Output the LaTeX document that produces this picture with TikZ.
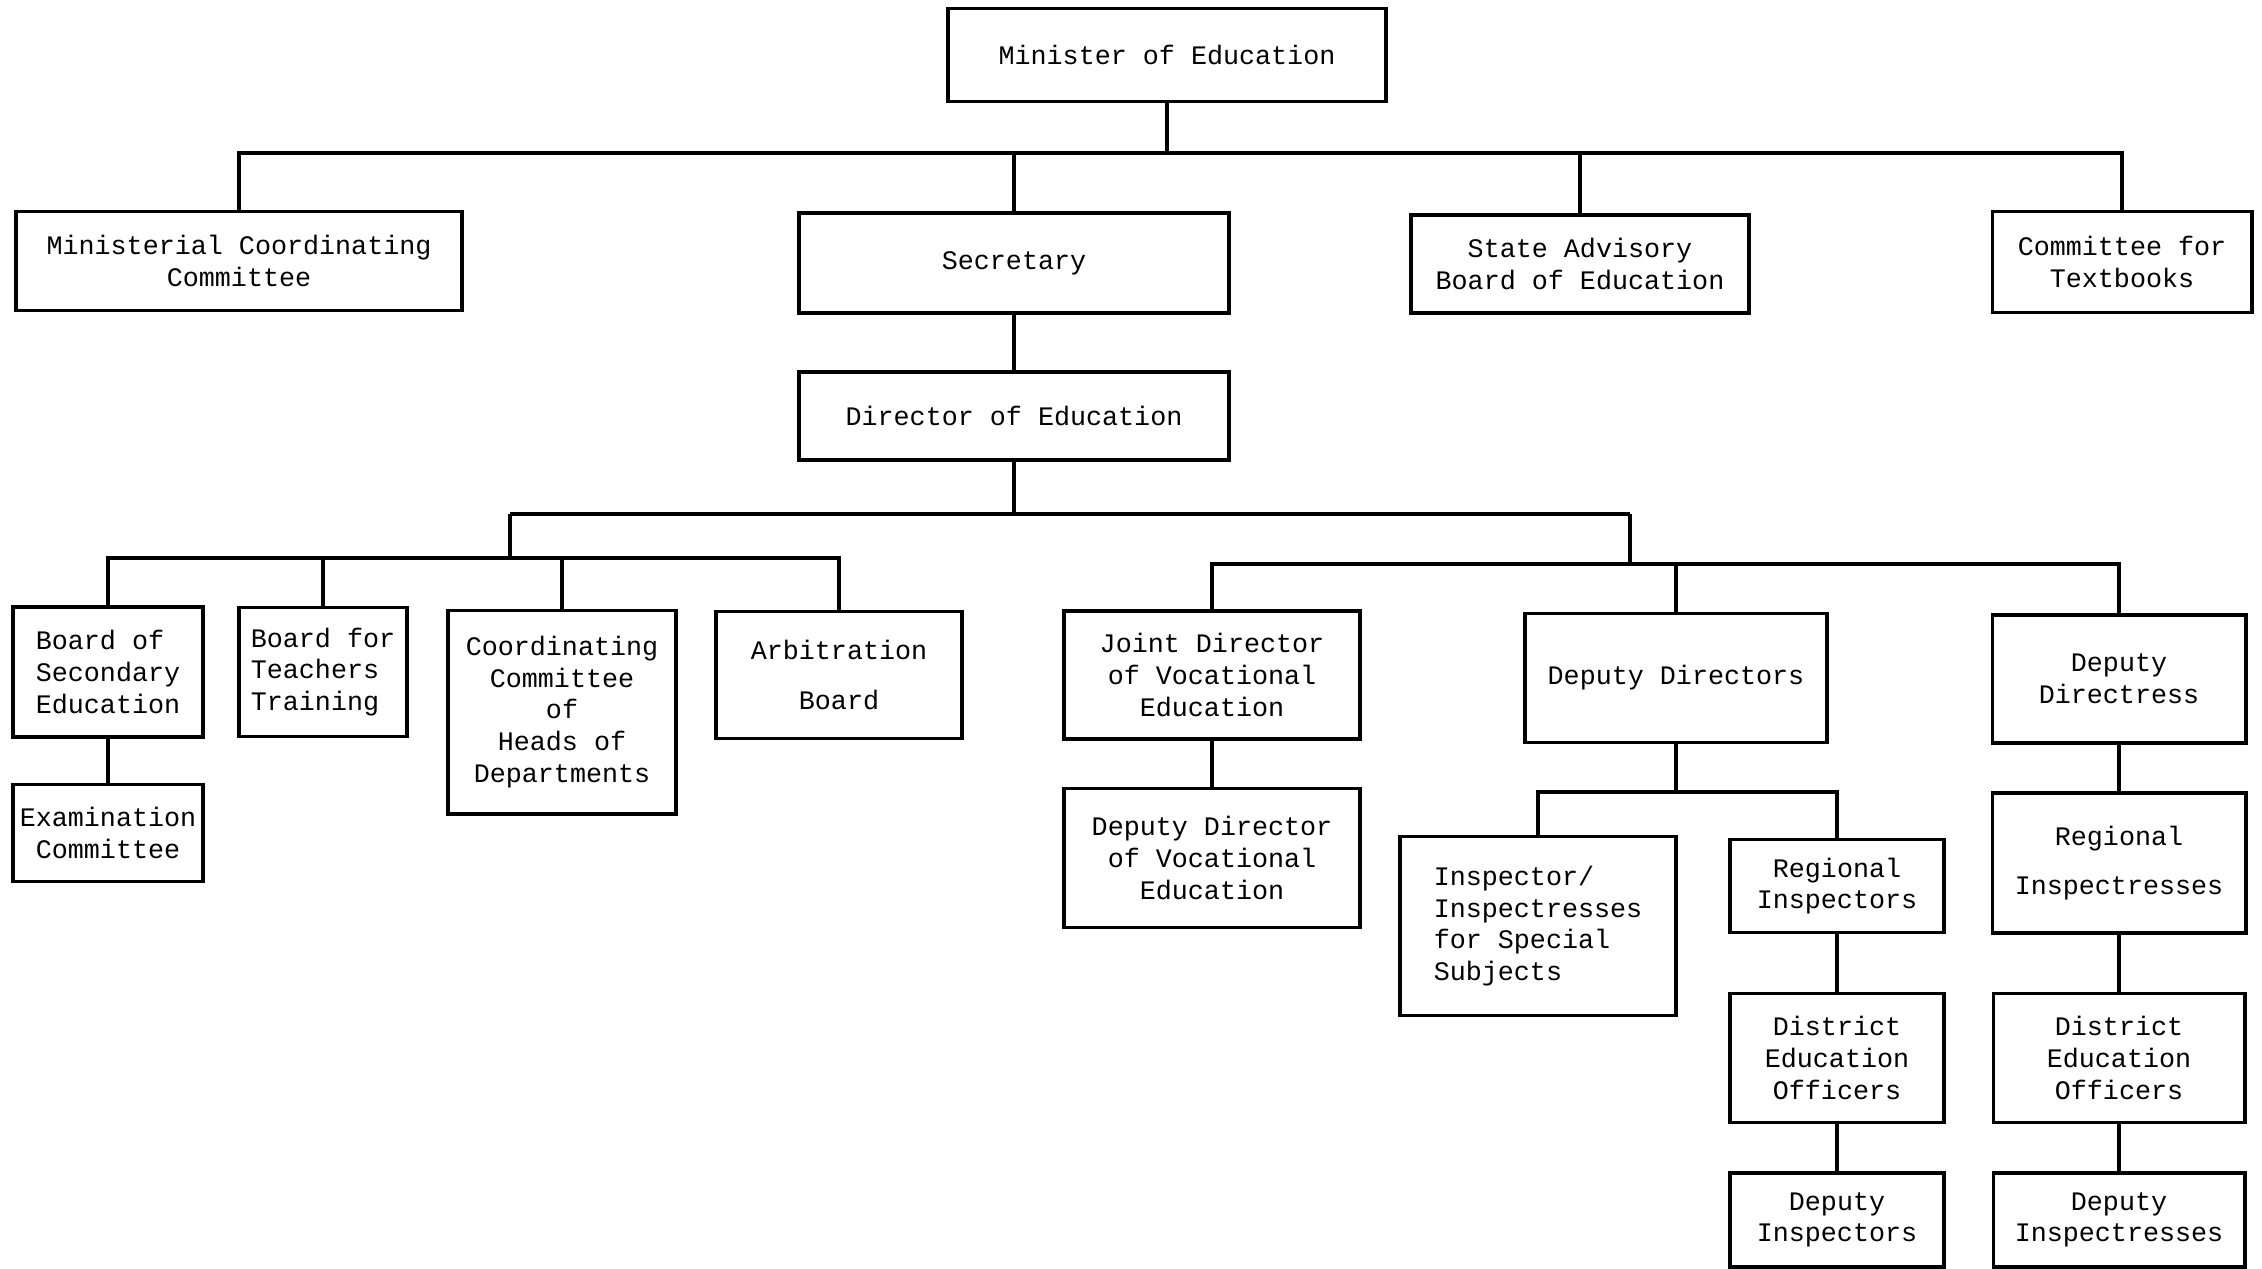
\documentclass[tikz,border=0pt]{standalone}
\usepackage{fontspec}
\setmonofont{Liberation Mono}
\usepackage{tikz}

\begin{document}
\begin{tikzpicture}[x=0.01cm,y=-0.01cm,
    font=\ttfamily\fontsize{7.6}{9}\selectfont,
    box/.style={draw,line width=1.1pt,inner sep=2pt,align=center},
    link/.style={line width=1pt}]
    \useasboundingbox (0,0) rectangle (2262,1269);
    % top level
    \node[box,minimum width=4.38cm,minimum height=0.93cm] (minister) at (1167,55) {Minister of Education};
    \node[box,minimum width=4.46cm,minimum height=0.99cm] (mcc) at (239,261) {Ministerial Coordinating\\Committee};
    \node[box,minimum width=4.29cm,minimum height=1.00cm] (sec) at (1014,263) {Secretary};
    \node[box,minimum width=3.38cm,minimum height=0.98cm] (sab) at (1580,264) {State Advisory\\Board of Education};
    \node[box,minimum width=2.59cm,minimum height=1.01cm] (cft) at (2122,262) {Committee for\\Textbooks};
    \node[box,minimum width=4.29cm,minimum height=0.88cm] (dir) at (1014,416) {Director of Education};
    % boards under the director
    \node[box,align=left,minimum width=1.90cm,minimum height=1.30cm] (bse) at (108,672) {Board of\\Secondary\\Education};
    \node[box,minimum width=1.90cm,minimum height=0.97cm] (exam) at (108,833) {Examination\\Committee};
    \node[box,align=left,minimum width=1.68cm,minimum height=1.29cm] (btt) at (323,672) {Board for\\Teachers\\Training};
    \node[box,minimum width=2.28cm,minimum height=2.03cm] (cchd) at (562,712) {Coordinating\\Committee\\of\\Heads of\\Departments};
    \node[box,minimum width=2.46cm,minimum height=1.27cm] (arb) at (839,675) {Arbitration\\[5pt]Board};
    % directors
    \node[box,minimum width=2.96cm,minimum height=1.28cm] (jdve) at (1212,675) {Joint Director\\of Vocational\\Education};
    \node[box,minimum width=2.96cm,minimum height=1.39cm] (ddve) at (1212,858) {Deputy Director\\of Vocational\\Education};
    \node[box,minimum width=3.02cm,minimum height=1.29cm] (dds) at (1676,678) {Deputy Directors};
    \node[box,minimum width=2.53cm,minimum height=1.28cm] (ddss) at (2119,679) {Deputy\\Directress};
    % inspectors
    \node[box,align=left,minimum width=2.75cm,minimum height=1.79cm] (isps) at (1538,926) {Inspector/\\Inspectresses\\for Special\\Subjects};
    \node[box,minimum width=2.14cm,minimum height=0.93cm] (rins) at (1837,886) {Regional\\Inspectors};
    \node[box,minimum width=2.14cm,minimum height=1.29cm] (deo1) at (1837,1058) {District\\Education\\Officers};
    \node[box,minimum width=2.14cm,minimum height=0.94cm] (dins) at (1837,1220) {Deputy\\Inspectors};
    \node[box,minimum width=2.53cm,minimum height=1.40cm] (rinss) at (2119,863) {Regional\\[5pt]Inspectresses};
    \node[box,minimum width=2.51cm,minimum height=1.29cm] (deo2) at (2119,1058) {District\\Education\\Officers};
    \node[box,minimum width=2.51cm,minimum height=0.94cm] (dinss) at (2119,1220) {Deputy\\Inspectresses};
    % bus levels
    \coordinate (busTop) at (0,153);
    \coordinate (hubL) at (510,514);
    \coordinate (hubR) at (1630,514);
    \coordinate (busL) at (0,558);
    \coordinate (busR) at (0,564);
    \coordinate (busDD) at (0,792);
    % connectors
    \draw[link] (minister) -- (minister |- busTop);
    \draw[link] (mcc) |- (cft |- busTop) -- (cft);
    \draw[link] (sec) -- (sec |- busTop);
    \draw[link] (sab) -- (sab |- busTop);
    \draw[link] (sec) -- (dir);
    \draw[link] (dir) -- (dir |- hubL);
    \draw[link] (hubL) -- (hubR);
    \draw[link] (hubL) -- (hubL |- busL);
    \draw[link] (bse) |- (arb |- busL) -- (arb);
    \draw[link] (btt) -- (btt |- busL);
    \draw[link] (cchd) -- (cchd |- busL);
    \draw[link] (bse) -- (exam);
    \draw[link] (hubR) -- (hubR |- busR);
    \draw[link] (jdve) |- (ddss |- busR) -- (ddss);
    \draw[link] (dds) -- (dds |- busR);
    \draw[link] (jdve) -- (ddve);
    \draw[link] (dds) -- (dds |- busDD);
    \draw[link] (isps) |- (rins |- busDD) -- (rins);
    \draw[link] (rins) -- (deo1) -- (dins);
    \draw[link] (ddss) -- (rinss) -- (deo2) -- (dinss);
\end{tikzpicture}
\end{document}
